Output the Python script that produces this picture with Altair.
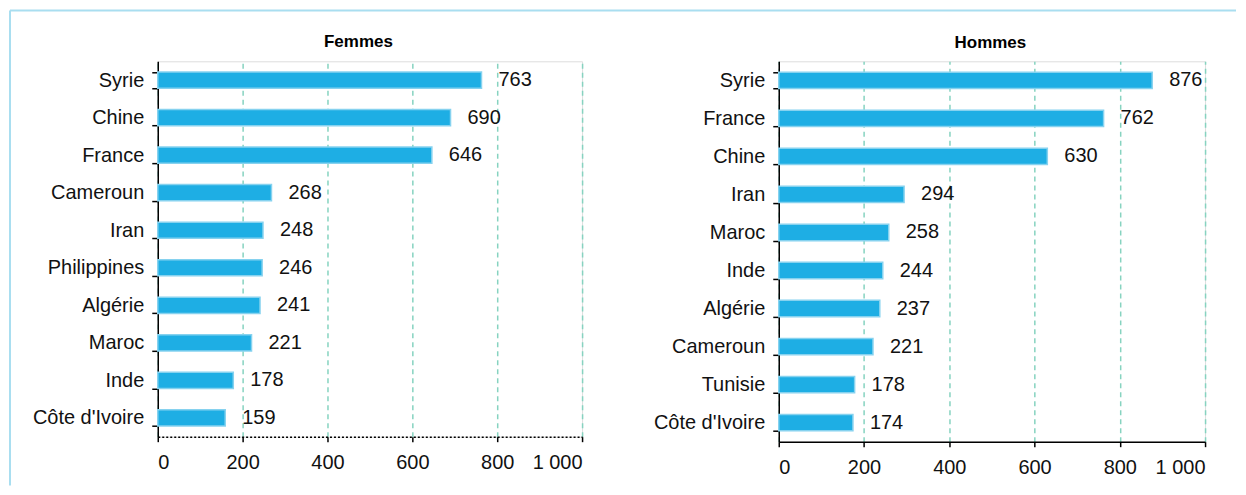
import altair as alt
import pandas as pd

pays_femmes = ["Syrie", "Chine", "France", "Cameroun", "Iran", "Philippines",
               "Algérie", "Maroc", "Inde", "Côte d'Ivoire"]
valeurs_femmes = [763, 690, 646, 268, 248, 246, 241, 221, 178, 159]

pays_hommes = ["Syrie", "France", "Chine", "Iran", "Maroc", "Inde",
               "Algérie", "Cameroun", "Tunisie", "Côte d'Ivoire"]
valeurs_hommes = [876, 762, 630, 294, 258, 244, 237, 221, 178, 174]

x_ticks = [0, 200, 400, 600, 800, 1000]

FONT = "Liberation Sans"
FS = 20
BAR = "#1eaee4"
BAR_STROKE = "#86d2ef"
GRID = "#86d3c0"
BG = "#f4f2f7"
FRAME = "#a9def0"
TXT = "#111111"


def panel(pays, valeurs, titre, w, h, dotted, title_x, title_y, frame=False):
    df = pd.DataFrame({"pays": pays, "valeur": valeurs})
    y = alt.Y("pays:N", sort=pays, title=None,
              scale=alt.Scale(paddingInner=0.57, paddingOuter=0.285),
              axis=alt.Axis(tickBand="extent", tickSize=6, tickColor="black",
                            domainColor="black", domainWidth=1.5, tickWidth=1.5,
                            labelPadding=8, labelFont=FONT, labelFontSize=FS,
                            labelColor=TXT, grid=False))
    x = alt.X("valeur:Q", title=None,
              scale=alt.Scale(domain=[0, 1000], nice=False),
              axis=alt.Axis(values=x_ticks, grid=True, gridColor=GRID,
                            gridDash=[5, 4], gridWidth=1.5,
                            tickSize=5, tickColor="black", tickWidth=1.5,
                            domainColor="black", domainWidth=1.5,
                            domainDash=[2, 2] if dotted else [],
                            labelPadding=11, labelFont=FONT, labelFontSize=FS,
                            labelColor=TXT,
                            labelExpr="datum.value == 1000 ? '1 000' : datum.label"))
    bars = alt.Chart(df).mark_bar(color=BAR, stroke=BAR_STROKE, strokeWidth=1.5).encode(
        x=x, y=y)
    text = alt.Chart(df).mark_text(align="left", dx=17, font=FONT, fontSize=FS,
                                   color=TXT).encode(
        x="valeur:Q", y=alt.Y("pays:N", sort=pays), text="valeur:Q")
    tdf = pd.DataFrame({"titre": [titre]})
    title = alt.Chart(tdf).mark_text(font=FONT, fontSize=17, fontWeight="bold",
                                     color="black",
                                     baseline="middle", align="center").encode(
        x=alt.value(title_x), y=alt.value(title_y), text="titre:N")
    layers = [bars, text, title]
    if frame:
        top = alt.Chart(tdf).mark_rule(color=FRAME, strokeWidth=2).encode(
            x=alt.value(-148), x2=alt.value(1080), y=alt.value(-51))
        side = alt.Chart(tdf).mark_rule(color=FRAME, strokeWidth=2).encode(
            x=alt.value(-148), y=alt.value(-51), y2=alt.value(425))
        layers = [top, side] + layers
    return alt.layer(*layers).properties(width=w, height=h)


left = panel(pays_femmes, valeurs_femmes, "Femmes", 425, 376, True, 201, -19, frame=True)
right = panel(pays_hommes, valeurs_hommes, "Hommes", 427, 381, False, 212, -18)

chart = alt.hconcat(left, right, spacing=197, bounds="flush").properties(
    padding=0
).configure_view(fill=BG, stroke=None).configure(background="white")

chart.save("out.html", embed_options={"renderer": "svg", "actions": False})
